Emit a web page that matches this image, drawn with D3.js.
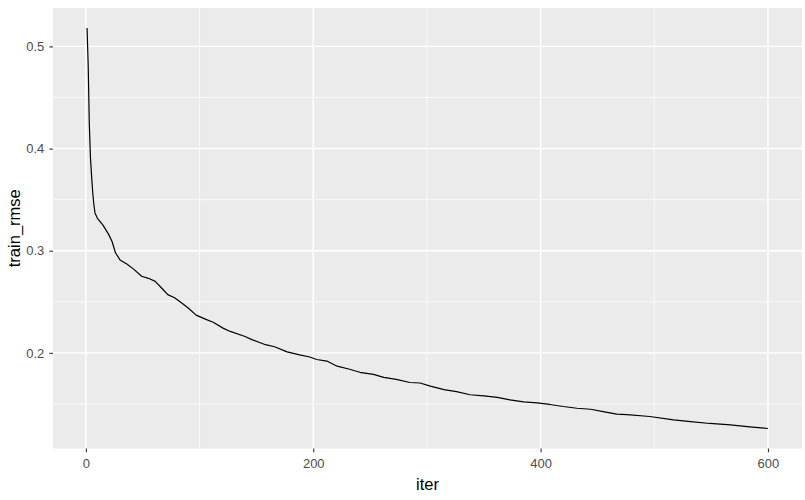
<!DOCTYPE html>
<html>
<head>
<meta charset="utf-8">
<script src="https://cdn.jsdelivr.net/npm/d3@7"></script>
<style>
  body { margin: 0; background: #ffffff; }
  text { font-family: "Liberation Sans", Arial, sans-serif; }
</style>
</head>
<body>
<svg id="chart" width="805" height="500"></svg>
<script>
// values
const iterValues = [1, 2, 3, 4, 5, 6, 7, 8, 10, 15, 20, 23, 26, 30, 36, 42, 49, 55, 61, 67,
  72, 78, 84, 90, 97, 105, 112, 121, 127, 140, 146, 158, 166, 177, 188, 197, 203, 212,
  221, 232, 241, 253, 262, 273, 285, 294, 303, 315, 326, 338, 350, 362, 373, 385, 397,
  408, 420, 432, 444, 455, 467, 476, 496, 517, 532, 549, 567, 584, 600];
const rmseValues = [0.518, 0.482, 0.424, 0.391, 0.373, 0.357, 0.345, 0.337, 0.332, 0.325,
  0.316, 0.309, 0.298, 0.291, 0.287, 0.282, 0.275, 0.273, 0.270, 0.263, 0.257, 0.254,
  0.249, 0.244, 0.237, 0.233, 0.230, 0.224, 0.221, 0.216, 0.213, 0.208, 0.206, 0.201,
  0.198, 0.196, 0.1935, 0.192, 0.187, 0.184, 0.181, 0.179, 0.176, 0.174, 0.171, 0.1705,
  0.1675, 0.164, 0.162, 0.159, 0.158, 0.1565, 0.154, 0.152, 0.151, 0.1495, 0.1475,
  0.1458, 0.1448, 0.1425, 0.140, 0.1395, 0.1377, 0.1344, 0.1328, 0.1309, 0.1295,
  0.1276, 0.1260];
const xTicks = [0, 200, 400, 600];
const xMinor = [100, 300, 500];
const yTicks = [0.2, 0.3, 0.4, 0.5];
const yMinor = [0.15, 0.25, 0.35, 0.45];

const width = 805, height = 500;
const margin = {top: 8, right: 3, bottom: 51.5, left: 53};
const svg = d3.select("#chart");

const data = iterValues.map((d, i) => ({iter: d, rmse: rmseValues[i]}));

// ggplot style 5% padding on each side
function expand(ext) {
  const pad = (ext[1] - ext[0]) * 0.05;
  return [ext[0] - pad, ext[1] + pad];
}

const x = d3.scaleLinear()
  .domain(expand(d3.extent(data, d => d.iter)))
  .range([margin.left, width - margin.right]);
const y = d3.scaleLinear()
  .domain(expand(d3.extent(data, d => d.rmse)))
  .range([height - margin.bottom, margin.top]);

// panel background
svg.append("rect")
  .attr("x", margin.left)
  .attr("y", margin.top)
  .attr("width", width - margin.left - margin.right)
  .attr("height", height - margin.top - margin.bottom)
  .attr("fill", "#EBEBEB");

const grid = svg.append("g");
grid.selectAll(".ymin").data(yMinor).enter().append("line")
  .attr("x1", margin.left).attr("x2", width - margin.right)
  .attr("y1", d => y(d)).attr("y2", d => y(d))
  .attr("stroke", "#fff").attr("stroke-width", 0.7);
grid.selectAll(".xmin").data(xMinor).enter().append("line")
  .attr("y1", margin.top).attr("y2", height - margin.bottom)
  .attr("x1", d => x(d)).attr("x2", d => x(d))
  .attr("stroke", "#fff").attr("stroke-width", 0.7);
grid.selectAll(".ymaj").data(yTicks).enter().append("line")
  .attr("x1", margin.left).attr("x2", width - margin.right)
  .attr("y1", d => y(d)).attr("y2", d => y(d))
  .attr("stroke", "#fff").attr("stroke-width", 1.4);
grid.selectAll(".xmaj").data(xTicks).enter().append("line")
  .attr("y1", margin.top).attr("y2", height - margin.bottom)
  .attr("x1", d => x(d)).attr("x2", d => x(d))
  .attr("stroke", "#fff").attr("stroke-width", 1.4);

// the curve
const line = d3.line()
  .x(d => x(d.iter))
  .y(d => y(d.rmse));
svg.append("path")
  .datum(data)
  .attr("d", line)
  .attr("fill", "none")
  .attr("stroke", "#000")
  .attr("stroke-width", 1.2)
  .attr("stroke-linejoin", "round");

// axes
const xAxis = svg.append("g")
  .attr("transform", `translate(0,${height - margin.bottom})`)
  .call(d3.axisBottom(x).tickValues(xTicks).tickSize(3.7).tickPadding(7).tickFormat(d3.format("d")));
const yAxis = svg.append("g")
  .attr("transform", `translate(${margin.left},0)`)
  .call(d3.axisLeft(y).tickValues(yTicks).tickSize(3.7).tickPadding(5).tickFormat(d3.format(".1f")));

[xAxis, yAxis].forEach(ax => {
  ax.select(".domain").remove();
  ax.selectAll(".tick line").attr("stroke", "#333333").attr("stroke-width", 1.1);
  ax.selectAll(".tick text")
    .attr("fill", "#4D4D4D")
    .style("font-size", "13px")
    .style("font-family", "'Liberation Sans', Arial, sans-serif");
});

// axis titles
svg.append("text")
  .attr("x", (margin.left + width - margin.right) / 2)
  .attr("y", 490)
  .attr("text-anchor", "middle")
  .style("font-size", "16.5px")
  .attr("fill", "#000")
  .text("iter");

svg.append("text")
  .attr("transform", `translate(19.5,${(margin.top + height - margin.bottom) / 2}) rotate(-90)`)
  .attr("text-anchor", "middle")
  .style("font-size", "16.5px")
  .attr("fill", "#000")
  .text("train_rmse");
</script>
</body>
</html>
